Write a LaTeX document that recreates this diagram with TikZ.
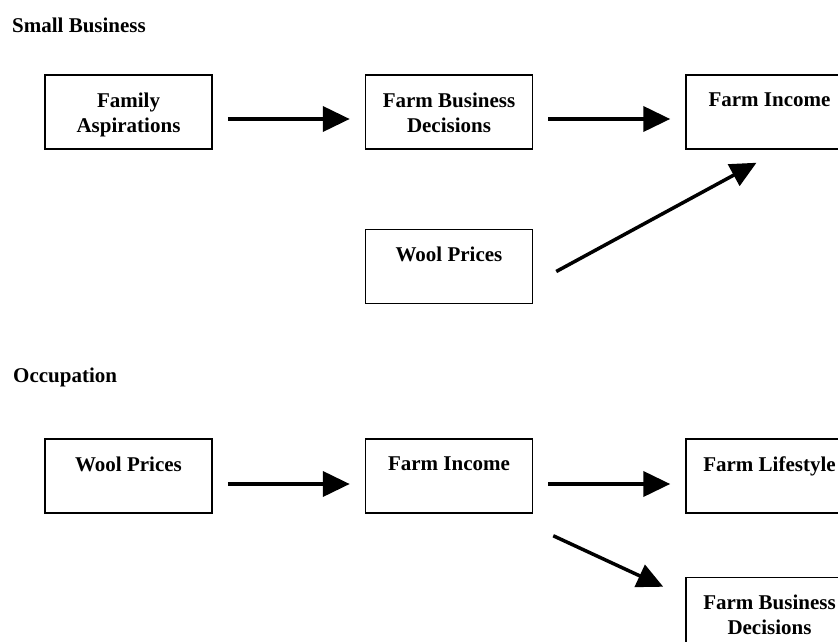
\documentclass[tikz,border=0pt]{standalone}
\usepackage{fontspec}
\setmainfont{Liberation Serif}
\usetikzlibrary{positioning,arrows.meta}

\begin{document}
\begin{tikzpicture}
            [
            x=1pt, y=-1pt, node distance=152pt,
            font=\fontsize{21}{25}\selectfont\bfseries,
            box/.style={draw, line width=1.5pt, minimum width=167pt,
                minimum height=74pt,
                label={[anchor=north, inner sep=0pt, yshift=-18pt, align=center]north:#1}},
            my arrow/.style={line width=4pt, -{Triangle[length=27pt, width=25pt]},
                shorten <=15pt, shorten >=15pt},
            slant arrow/.style={line width=3.5pt, -{Triangle[length=26pt, width=24pt]}}
            ]

            \useasboundingbox (0,0) rectangle (838,642);
            \clip (0,0) rectangle (838,642);

            % Small Business
            \node (title1) [anchor=base west, inner sep=0pt] at (12,33) {Small Business};
            \node (fam1) [box={Family\\Aspirations}] at (128.5,112) {};
            \node (dec1) [right=of fam1, box={Farm Business\\Decisions}] {};
            \node (inc1) [right=of dec1, box={Farm Income}] {};
            \node (wool1) [below=79pt of dec1, box={Wool Prices}] {};

            % Occupation
            \node (title2) [anchor=base west, inner sep=0pt] at (13,382) {Occupation};
            \node (wool2) [box={Wool Prices}] at (128.5,476) {};
            \node (inc2) [right=of wool2, box={Farm Income}] {};
            \node (life2) [right=of inc2, box={Farm Lifestyle}] {};
            \node (dec2) [below=63pt of life2, box={Farm Business\\Decisions}] {};

            \draw [my arrow] ([yshift=-7pt]fam1.east) -- ([yshift=-7pt]dec1.west);
            \draw [my arrow] ([yshift=-7pt]dec1.east) -- ([yshift=-7pt]inc1.west);
            \draw [slant arrow] ([xshift=23pt, yshift=-5pt]wool1.east) -- ([xshift=-13pt, yshift=-13pt]inc1.south);

            \draw [my arrow] ([yshift=-8pt]wool2.east) -- ([yshift=-8pt]inc2.west);
            \draw [my arrow] ([yshift=-8pt]inc2.east) -- ([yshift=-8pt]life2.west);
            \draw [slant arrow] ([xshift=20pt, yshift=-22pt]inc2.south east) -- ([xshift=-22pt, yshift=-10pt]dec2.north west);

        \end{tikzpicture}
\end{document}
